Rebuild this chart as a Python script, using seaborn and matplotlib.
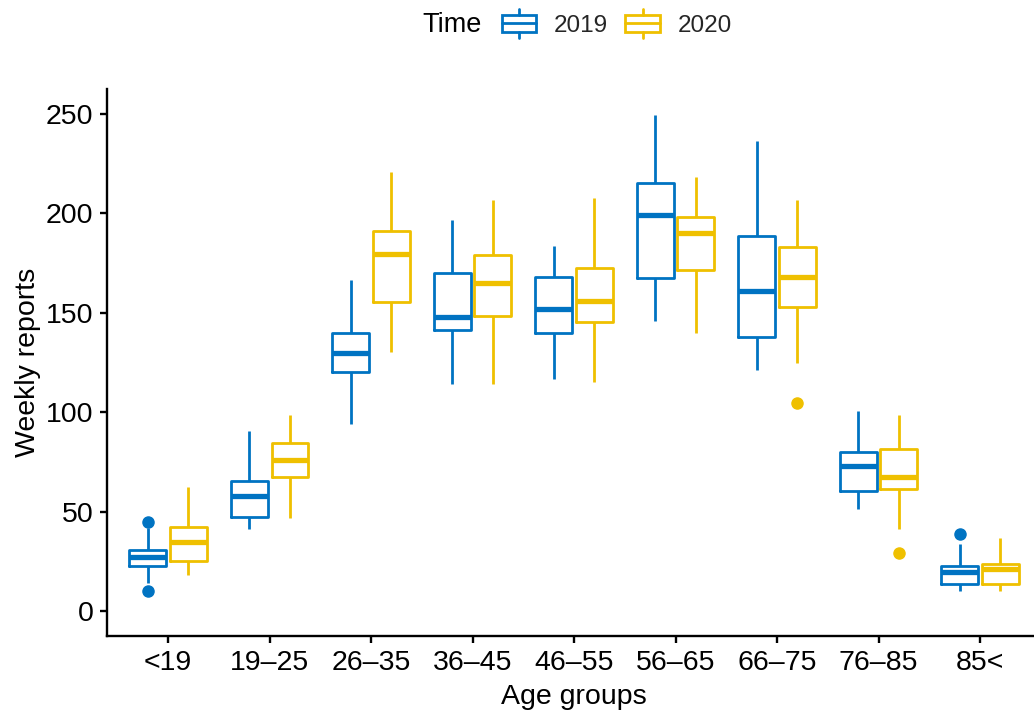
import matplotlib
matplotlib.use("Agg")
import numpy as np
import pandas as pd
import seaborn as sns
import matplotlib.pyplot as plt
from matplotlib.legend_handler import HandlerBase
from matplotlib.patches import Rectangle
from matplotlib.lines import Line2D

age_groups = ["<19", "19–25", "26–35", "36–45", "46–55", "56–65", "66–75", "76–85", "85<"]
years = ["2019", "2020"]
palette = {"2019": "#0073C2", "2020": "#EFC000"}

# Weekly report summaries per age group: lower whisker, Q1, median, Q3, upper whisker
low_2019 = [14.2, 41.0, 93.8, 114.0, 116.9, 145.8, 121.1, 51.1, 10.0]
q1_2019 = [22.8, 47.5, 120.4, 141.3, 139.6, 167.6, 137.6, 60.3, 13.7]
med_2019 = [26.9, 57.9, 129.9, 147.8, 151.9, 199.4, 160.9, 72.8, 19.7]
q3_2019 = [30.8, 65.4, 139.8, 169.8, 167.9, 215.5, 188.4, 79.8, 22.7]
high_2019 = [41.5, 90.6, 166.6, 196.6, 183.5, 249.7, 236.6, 100.6, 33.6]
outliers_2019 = [[10.0, 44.6], [], [], [], [], [], [], [], [38.8]]

low_2020 = [18.0, 47.0, 130.1, 114.0, 115.2, 140.0, 124.9, 41.0, 10.0]
q1_2020 = [24.9, 67.6, 155.2, 148.5, 145.2, 171.3, 152.7, 61.3, 13.4]
med_2020 = [34.8, 75.7, 179.8, 164.9, 155.9, 189.9, 167.9, 67.6, 21.1]
q3_2020 = [42.3, 84.4, 191.3, 179.2, 172.5, 198.4, 183.0, 81.7, 23.7]
high_2020 = [62.4, 98.4, 220.6, 206.6, 207.6, 218.5, 206.8, 98.6, 36.5]
outliers_2020 = [[], [], [], [], [], [], [104.8], [28.9], []]


def weekly_sample(lo, q1, med, q3, hi, outs):
    """Weekly counts whose quartiles, whiskers and outliers equal the summary."""
    below = [v for v in outs if v < med]
    above = [v for v in outs if v > med]
    n_mid = 10
    n_lo = 1 + max(0, len(above) - len(below))
    n_hi = len(below) + n_lo - len(above)
    return (below + [lo] * n_lo + [q1] * n_mid + [med]
            + [q3] * n_mid + [hi] * n_hi + above)


summaries = {
    "2019": (low_2019, q1_2019, med_2019, q3_2019, high_2019, outliers_2019),
    "2020": (low_2020, q1_2020, med_2020, q3_2020, high_2020, outliers_2020),
}
rows = []
for year in years:
    lo, q1, md, q3, hi, outs = summaries[year]
    for i, grp in enumerate(age_groups):
        for v in weekly_sample(lo[i], q1[i], md[i], q3[i], hi[i], outs[i]):
            rows.append({"Age groups": grp, "Time": year, "Weekly reports": v})
df = pd.DataFrame(rows)

sns.set_theme(style="ticks")
plt.rcParams["font.family"] = ["Liberation Sans", "DejaVu Sans"]

fig = plt.figure(figsize=(10.34, 7.17), dpi=100)
W, H = 1034, 717
ax = fig.add_axes([107.3 / W, 1 - 636 / H, (1041 - 107.3) / W, (636 - 89.3) / H])

sns.boxplot(
    data=df, x="Age groups", y="Weekly reports", hue="Time",
    order=age_groups, hue_order=years, palette=palette,
    fill=False, width=0.8, gap=0.09, linewidth=2.0, showcaps=False,
    whis=1.5, legend=False,
    medianprops={"linewidth": 3.8},
    flierprops={"marker": "o", "markersize": 8},
    ax=ax,
)

# solid outlier dots in the colour of their year (left box 2019, right box 2020)
for line in ax.lines:
    if line.get_marker() == "o" and len(line.get_xdata()):
        x = float(np.asarray(line.get_xdata())[0])
        c = palette["2019"] if x - round(x) < 0 else palette["2020"]
        line.set_color(c)
        line.set_markerfacecolor(c)
        line.set_markeredgecolor(c)

ax.set_xlim(-0.6, 8.6)
ax.set_ylim(-12.6, 262.4)
ax.set_yticks([0, 50, 100, 150, 200, 250])

for side in ("top", "right"):
    ax.spines[side].set_visible(False)
for side in ("left", "bottom"):
    ax.spines[side].set_linewidth(1.7)
    ax.spines[side].set_color("black")
ax.tick_params(axis="both", length=5, width=1.7, color="black",
               labelsize=20.5, labelcolor="black", pad=5)

ax.set_xlabel("Age groups", fontsize=20.5, color="black")
ax.set_ylabel("Weekly reports", fontsize=20.5, color="black")
ax.xaxis.label.set_va("center")
ax.yaxis.label.set_va("center")
ax.xaxis.set_label_coords(0.5, -(697 - 636) / (636 - 89.3))
ax.yaxis.set_label_coords(-(107.3 - 28) / (1041 - 107.3), 0.5)


class BoxKey(HandlerBase):
    def create_artists(self, legend, orig_handle, xdescent, ydescent,
                       width, height, fontsize, trans):
        c = orig_handle.get_color()
        x0, y0 = -xdescent, -ydescent
        by0, bh = y0 + 0.19 * height, 0.625 * height
        xm = x0 + width / 2
        box = Rectangle((x0, by0), width, bh, fill=False, edgecolor=c,
                        lw=2.0, transform=trans)
        med = Line2D([x0, x0 + width], [by0 + bh / 2] * 2, color=c,
                     lw=2.0, transform=trans)
        w_lo = Line2D([xm, xm], [y0, by0], color=c, lw=2.0, transform=trans)
        w_hi = Line2D([xm, xm], [by0 + bh, y0 + height], color=c, lw=2.0,
                      transform=trans)
        return [box, med, w_lo, w_hi]


handles = [Line2D([], [], color=palette[y]) for y in years]
fig.legend(handles, years, handler_map={Line2D: BoxKey()},
           loc="center", bbox_to_anchor=(616.7 / W, 1 - 23.5 / H), ncol=2,
           frameon=False, fontsize=17.5, handlelength=1.41, handleheight=1.43,
           handletextpad=0.74, columnspacing=0.72, borderpad=0, borderaxespad=0)
fig.text(482 / W, 1 - 31.7 / H, "Time", ha="right", va="baseline",
         fontsize=19.5, color="black")

fig.savefig("out.png", dpi=100)
